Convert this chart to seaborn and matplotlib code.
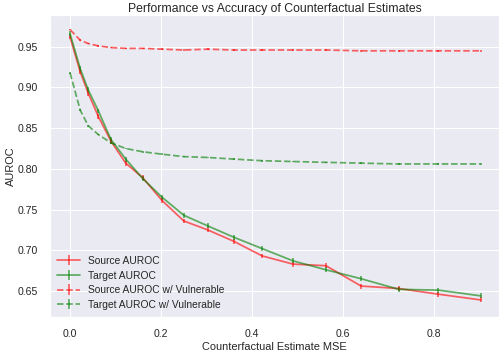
import matplotlib
matplotlib.use("Agg")
import matplotlib.pyplot as plt
import seaborn as sns
import numpy as np

mse = [0.0, 0.0225, 0.04, 0.0625, 0.09, 0.1225, 0.16, 0.2025, 0.25, 0.3025,
       0.36, 0.4225, 0.49, 0.5625, 0.64, 0.7225, 0.81, 0.9025]
source_auroc = [0.962, 0.919, 0.893, 0.864, 0.834, 0.807, 0.789, 0.761, 0.736, 0.725,
                0.711, 0.693, 0.683, 0.681, 0.656, 0.653, 0.646, 0.639]
target_auroc = [0.966, 0.923, 0.897, 0.871, 0.836, 0.812, 0.788, 0.765, 0.743, 0.730,
                0.716, 0.702, 0.687, 0.676, 0.665, 0.652, 0.651, 0.644]
source_vuln = [0.971, 0.958, 0.954, 0.951, 0.949, 0.948, 0.948, 0.947, 0.946, 0.947,
               0.946, 0.946, 0.946, 0.946, 0.945, 0.945, 0.945, 0.945]
target_vuln = [0.918, 0.872, 0.853, 0.842, 0.832, 0.825, 0.821, 0.818, 0.815, 0.814,
               0.812, 0.810, 0.809, 0.808, 0.807, 0.806, 0.806, 0.806]
err_main = 0.003
err_vuln = 0.001

sns.set_theme(style="darkgrid")
plt.rcParams['font.family'] = ['Liberation Sans', 'DejaVu Sans']
plt.rcParams['text.color'] = '.15'
plt.rcParams['axes.labelcolor'] = '.15'
plt.rcParams['xtick.color'] = '.15'
plt.rcParams['ytick.color'] = '.15'

fig = plt.figure(figsize=(499 / 72, 356 / 72), dpi=72)
ax = fig.add_axes([50 / 499, 1 - 317 / 356, 1 - 50 / 499, (317 - 15) / 356])

series = [
    ("Source AUROC", source_auroc, "red", "-", err_main),
    ("Target AUROC", target_auroc, "green", "-", err_main),
    ("Source AUROC w/ Vulnerable", source_vuln, "red", "--", err_vuln),
    ("Target AUROC w/ Vulnerable", target_vuln, "green", "--", err_vuln),
]
for label, vals, col, ls, e in series:
    ax.errorbar(mse, vals, yerr=e, color=col, linestyle=ls, alpha=0.6,
                linewidth=1.75, elinewidth=1.75, label=label)

ax.set_xlim(-0.044, 0.943)
ax.set_ylim(0.618, 0.989)
ax.set_xticks([0.0, 0.2, 0.4, 0.6, 0.8])
ax.set_yticks([0.65, 0.70, 0.75, 0.80, 0.85, 0.90, 0.95])
ax.tick_params(labelsize=10.5, pad=6)
ax.set_xlabel("Counterfactual Estimate MSE", fontsize=11, labelpad=3)
ax.set_ylabel("AUROC", fontsize=11, labelpad=2)
ax.set_title("Performance vs Accuracy of Counterfactual Estimates", fontsize=12.2, pad=3)
ax.legend(loc="lower left", frameon=False, fontsize=10.3, handlelength=2.2,
          labelspacing=0.45, borderaxespad=0.3)

fig.savefig("out.png", dpi=72)
